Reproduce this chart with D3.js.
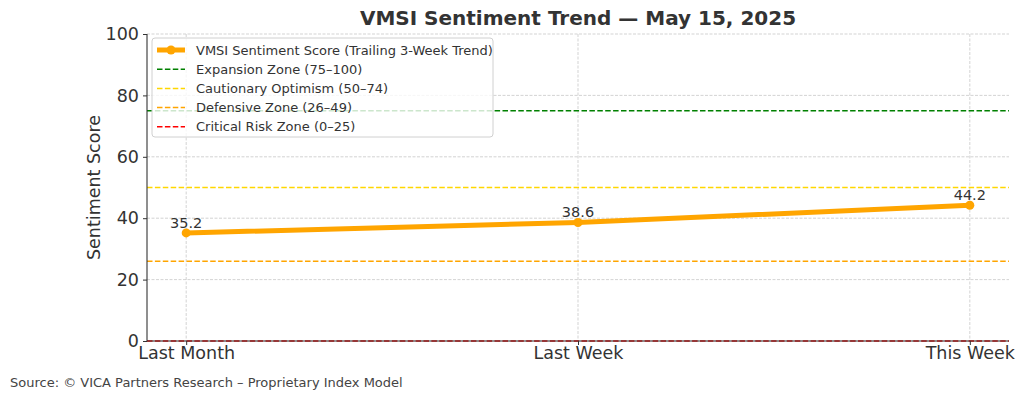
<!DOCTYPE html>
<html>
<head>
<meta charset="utf-8">
<script src="https://cdn.jsdelivr.net/npm/d3@7"></script>
<style>
  body { margin: 0; background: #fff; }
  svg { display: block; font-family: "DejaVu Sans", sans-serif; }
</style>
</head>
<body>
<svg width="1024" height="399"></svg>
<script>
const svg = d3.select('svg');

// data
const periods = ['Last Month', 'Last Week', 'This Week'];
const scores = [35.2, 38.6, 44.2];
const zoneNames = ['Expansion Zone (75–100)', 'Cautionary Optimism (50–74)', 'Defensive Zone (26–49)', 'Critical Risk Zone (0–25)'];
const zoneLevels = [75, 50, 26, 0];
const zoneColors = ['#008000', '#FFD700', '#FFA500', '#FF0000'];
const yTicks = [0, 20, 40, 60, 80, 100];

const m = {left: 147, right: 1009, top: 34, bottom: 341};

const x = d3.scalePoint().domain(periods).range([m.left, m.right]).padding(0.1);
const y = d3.scaleLinear().domain([0, 100]).range([m.bottom, m.top]);

// grid
svg.append('g').selectAll('line').data(yTicks)
	.enter().append('line')
		.attr('x1', m.left).attr('x2', m.right)
		.attr('y1', d => y(d)).attr('y2', d => y(d))
		.attr('stroke', '#c8c8c8').attr('stroke-width', 0.8)
		.attr('stroke-dasharray', '3,1.5');
svg.append('g').selectAll('line').data(periods)
	.enter().append('line')
		.attr('x1', d => x(d)).attr('x2', d => x(d))
		.attr('y1', m.top).attr('y2', m.bottom)
		.attr('stroke', '#c8c8c8').attr('stroke-width', 0.8)
		.attr('stroke-dasharray', '3,1.5');

// zone lines (the red one at 0 sits under the bottom spine)
svg.append('g').selectAll('line').data(zoneLevels)
	.enter().append('line')
		.attr('x1', m.left).attr('x2', m.right)
		.attr('y1', d => y(d)).attr('y2', d => y(d))
		.attr('stroke', (d, i) => zoneColors[i])
		.attr('stroke-width', 1.5)
		.attr('stroke-dasharray', '5.5,2.4');

// axes
const yAxis = svg.append('g')
	.attr('transform', `translate(${m.left},0)`)
	.call(d3.axisLeft(y).tickValues(yTicks).tickSize(4).tickPadding(4));
const xAxis = svg.append('g')
	.attr('transform', `translate(0,${m.bottom})`)
	.call(d3.axisBottom(x).tickSize(4).tickPadding(2));
[yAxis, xAxis].forEach(a => {
	a.select('.domain').attr('stroke', '#333').attr('stroke-width', 1.1);
	a.selectAll('.tick line').attr('stroke', '#333');
	a.selectAll('text').attr('fill', '#333').attr('font-size', '17.5px')
		.attr('font-family', '"DejaVu Sans", sans-serif');
});
xAxis.select('.domain').attr('d', `M${m.left},0H${m.right}`);
yAxis.select('.domain').attr('d', `M0,${y(0)}V${y(100)}`);

// series
const line = d3.line().x((d, i) => x(periods[i])).y(d => y(d));
svg.append('path').datum(scores)
	.attr('d', line)
	.attr('fill', 'none')
	.attr('stroke', '#FFA500')
	.attr('stroke-width', 5)
	.attr('stroke-linecap', 'round');
svg.selectAll('circle.pt').data(scores)
	.enter().append('circle')
		.attr('class', 'pt')
		.attr('cx', (d, i) => x(periods[i]))
		.attr('cy', d => y(d))
		.attr('r', 4.5)
		.attr('fill', '#FFA500');
svg.selectAll('text.lbl').data(scores)
	.enter().append('text')
		.attr('class', 'lbl')
		.text(d => d.toFixed(1))
		.attr('x', (d, i) => x(periods[i]))
		.attr('y', d => y(d) - 5)
		.attr('text-anchor', 'middle')
		.attr('fill', '#333')
		.attr('font-size', '14.5px');

// legend
const lg = svg.append('g').attr('transform', 'translate(152,38)');
lg.append('rect')
	.attr('width', 341).attr('height', 99)
	.attr('rx', 3)
	.attr('fill', 'rgba(255,255,255,0.8)')
	.attr('stroke', '#d0d0d0');
const legendNames = ['VMSI Sentiment Score (Trailing 3-Week Trend)'].concat(zoneNames);
const legendColors = ['#FFA500'].concat(zoneColors);
const rows = lg.selectAll('g.row').data(legendNames)
	.enter().append('g')
		.attr('class', 'row')
		.attr('transform', (d, i) => `translate(0,${12 + i * 19.2})`);
rows.append('line')
	.attr('x1', 5).attr('x2', 33)
	.attr('stroke', (d, i) => legendColors[i])
	.attr('stroke-width', (d, i) => i === 0 ? 5 : 1.5)
	.attr('stroke-dasharray', (d, i) => i === 0 ? null : '5.5,2.4');
rows.filter((d, i) => i === 0).append('circle')
	.attr('cx', 19).attr('r', 4.5).attr('fill', '#FFA500');
rows.append('text')
	.text(d => d)
	.attr('x', 44).attr('y', 4.5)
	.attr('fill', '#333')
	.attr('font-size', '13px');

// title, labels
svg.append('text')
	.text('VMSI Sentiment Trend — May 15, 2025')
	.attr('x', (m.left + m.right) / 2).attr('y', 25)
	.attr('text-anchor', 'middle')
	.attr('font-weight', 'bold')
	.attr('font-size', '20px')
	.attr('fill', '#333');
svg.append('text')
	.text('Sentiment Score')
	.attr('transform', `translate(100,${(m.top + m.bottom) / 2}) rotate(-90)`)
	.attr('text-anchor', 'middle')
	.attr('font-size', '17.5px')
	.attr('fill', '#333');
svg.append('text')
	.text('Source: © VICA Partners Research – Proprietary Index Model')
	.attr('x', 10).attr('y', 387)
	.attr('font-size', '13px')
	.attr('fill', '#444');
</script>
</body>
</html>
